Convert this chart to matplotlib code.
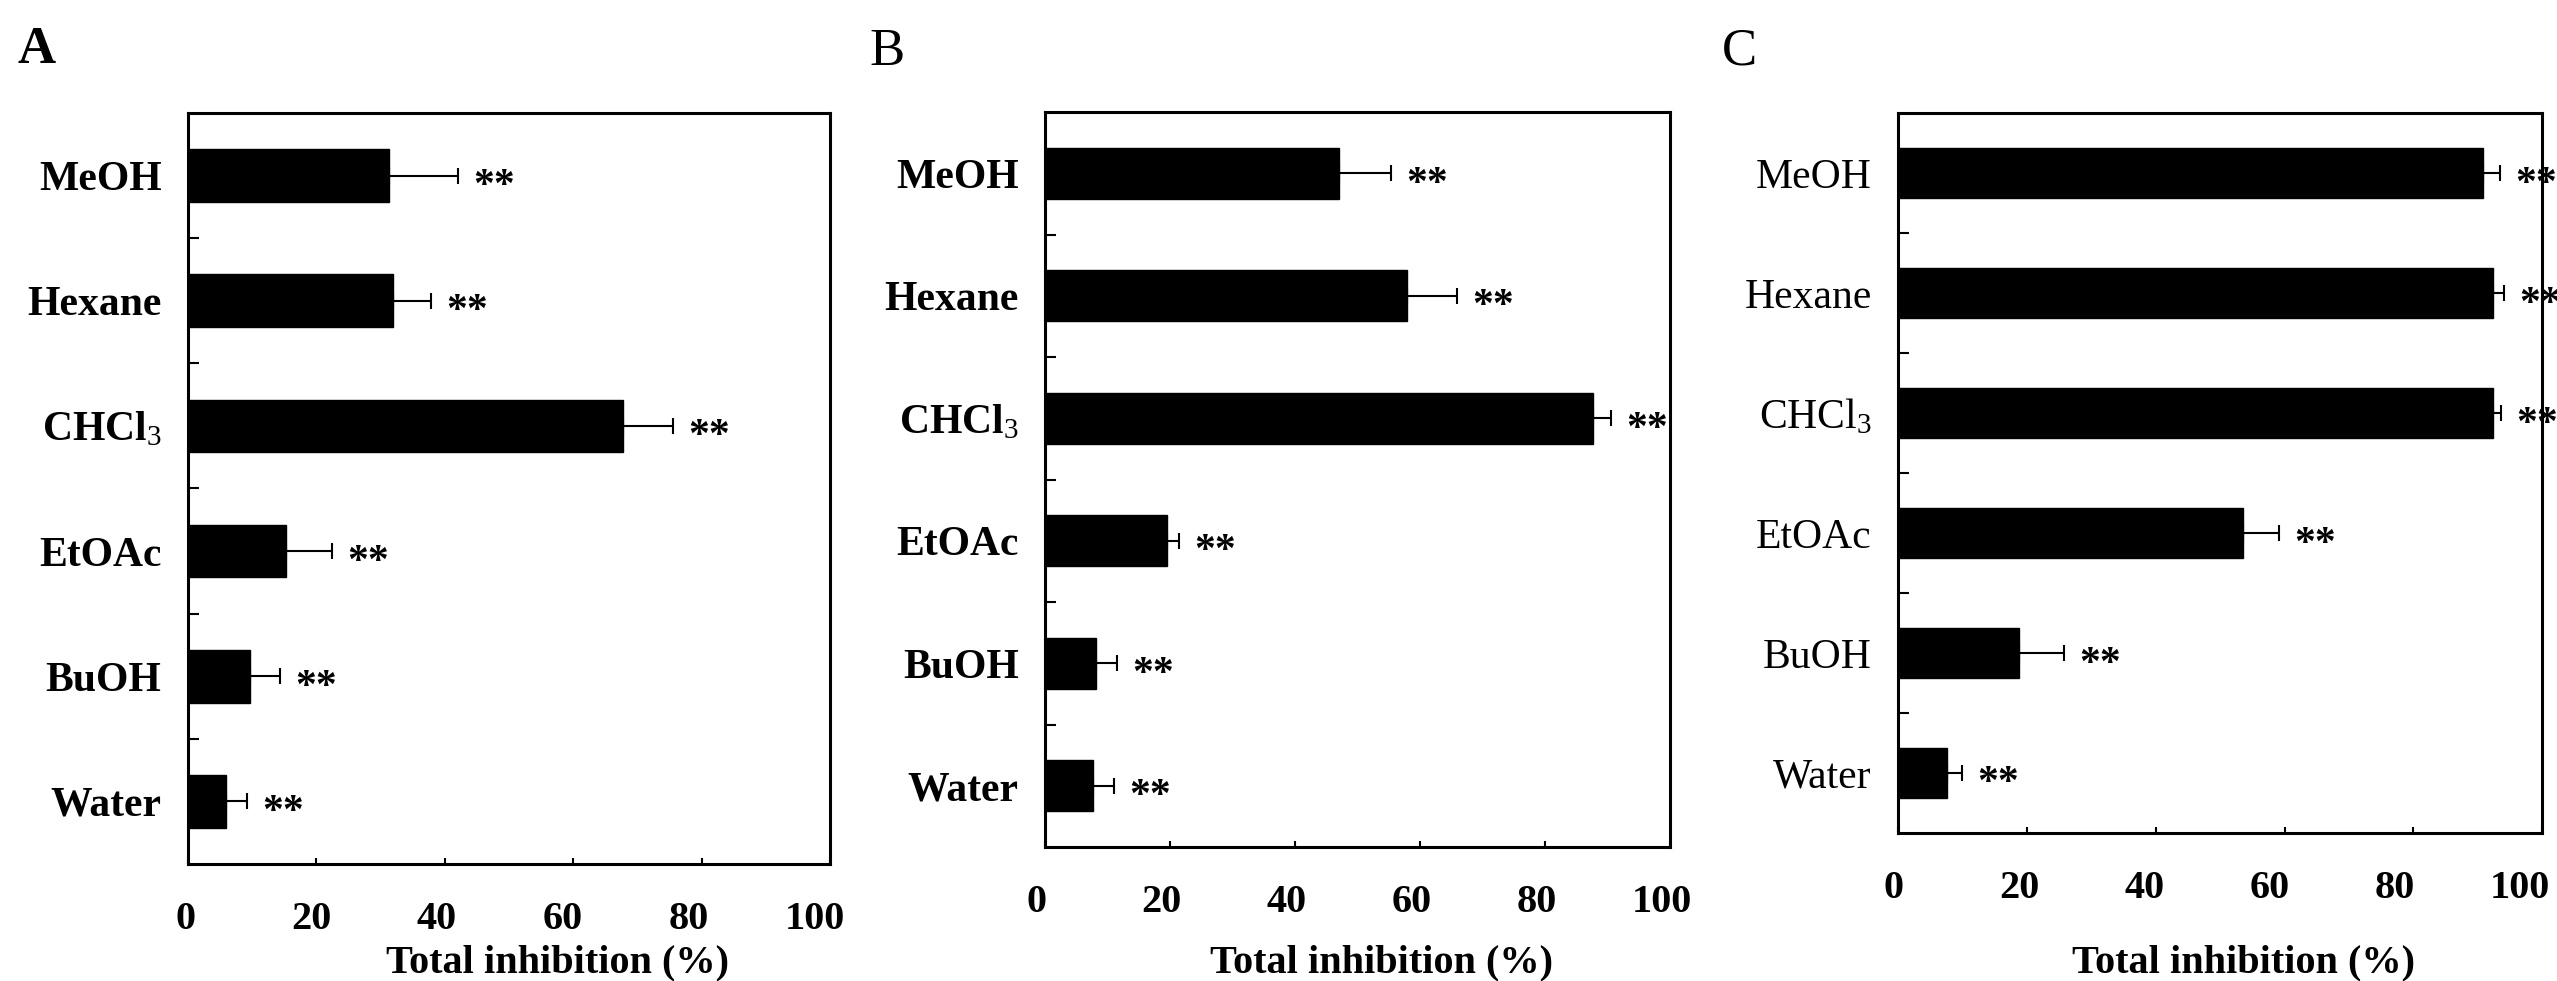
import numpy as np
import matplotlib
matplotlib.use('Agg')
import matplotlib.pyplot as plt
import matplotlib.transforms as mtransforms

# ---------------- data ----------------
categories = ['MeOH', 'Hexane', 'CHCl$_3$', 'EtOAc', 'BuOH', 'Water']
panel_labels = ['A', 'B', 'C']
inhib_A = [31.3, 31.9, 67.8, 15.2, 9.6, 5.9]
err_A = [10.8, 5.9, 7.8, 7.3, 4.8, 3.3]
inhib_B = [47.0, 57.9, 87.7, 19.5, 8.2, 7.6]
err_B = [8.3, 8.0, 2.8, 1.9, 3.3, 3.4]
inhib_C = [90.8, 92.4, 92.4, 53.6, 18.8, 7.6]
err_C = [2.6, 1.7, 1.2, 5.5, 6.9, 2.4]
signif = ['**', '**', '**', '**', '**', '**']
xticks = [0, 20, 40, 60, 80, 100]
xlabel_text = 'Total inhibition (%)'

# ---------------- style ----------------
plt.rcParams['font.family'] = ['Liberation Serif', 'DejaVu Serif']
plt.rcParams['mathtext.fontset'] = 'custom'
plt.rcParams['mathtext.rm'] = 'Liberation Serif'
plt.rcParams['mathtext.it'] = 'Liberation Serif:italic'
plt.rcParams['mathtext.bf'] = 'Liberation Serif:bold'

W, H = 2557, 981
fig = plt.figure(figsize=(W / 100, H / 100), dpi=100)

rects = [
    [0.0735, 0.1193, 0.2511, 0.7655],
    [0.4087, 0.1366, 0.2444, 0.7492],
    [0.7423, 0.1509, 0.2519, 0.7339],
]
label_xy = [(0.0070, 0.9358), (0.3402, 0.9337), (0.6735, 0.9347)]
label_weight = ['bold', 'normal', 'normal']
cat_weight = ['bold', 'bold', 'normal']
xlabel_coords = [(0.575, -0.145), (0.539, -0.171), (0.536, -0.194)]
# horizontal shift (points) of the tick labels at the left / right end of the axis
tick_shift = [(-2, -11), (-6, -6), (-3, -16)]

panels = [(inhib_A, err_A), (inhib_B, err_B), (inhib_C, err_C)]
pos = np.arange(len(categories))

for k, ((vals, errs), rect) in enumerate(zip(panels, rects)):
    ax = fig.add_axes(rect)
    ax.barh(pos, vals, height=0.42, color='black', edgecolor='black', zorder=2)
    ax.errorbar(vals, pos, xerr=[np.zeros(len(vals)), errs], fmt='none',
                ecolor='black', elinewidth=1.5, capsize=6, capthick=1.5, zorder=3)
    star_tr = mtransforms.offset_copy(ax.transData, fig=fig, x=11, y=-15.5, units='points')
    for i, (v, e, s) in enumerate(zip(vals, errs, signif)):
        ax.text(v + e, i, s, transform=star_tr, ha='left', va='baseline',
                fontsize=30, fontweight='bold', clip_on=False)

    ax.set_xlim(0, 100)
    ax.set_ylim(len(categories) - 0.5, -0.5)
    ax.set_xticks(xticks)
    ax.set_xticklabels([str(t) for t in xticks], fontsize=29, fontweight='bold')
    ax.set_yticks(pos)
    ax.set_yticklabels(categories, fontsize=30, fontweight=cat_weight[k])
    ax.set_yticks(pos[:-1] + 0.5, minor=True)
    ax.tick_params(axis='y', which='major', length=0, pad=19)
    ax.tick_params(axis='y', which='minor', direction='in', length=8, width=1.5)
    ax.tick_params(axis='x', which='major', direction='in', length=4, width=1.5, pad=27)
    for sp in ax.spines.values():
        sp.set_linewidth(2.2)

    s0, s1 = tick_shift[k]
    for t, lab in zip(xticks, ax.get_xticklabels()):
        dx = s0 + (s1 - s0) * t / 100.0
        lab.set_transform(lab.get_transform() +
                          mtransforms.ScaledTranslation(dx / 72.0, 0, fig.dpi_scale_trans))

    ax.set_xlabel(xlabel_text, fontsize=29, fontweight='bold')
    ax.xaxis.set_label_coords(*xlabel_coords[k])
    ax.xaxis.label.set_verticalalignment('baseline')

    fig.text(label_xy[k][0], label_xy[k][1], panel_labels[k], fontsize=38,
             fontweight=label_weight[k], ha='left', va='baseline')

fig.savefig('out.png', dpi=100)
